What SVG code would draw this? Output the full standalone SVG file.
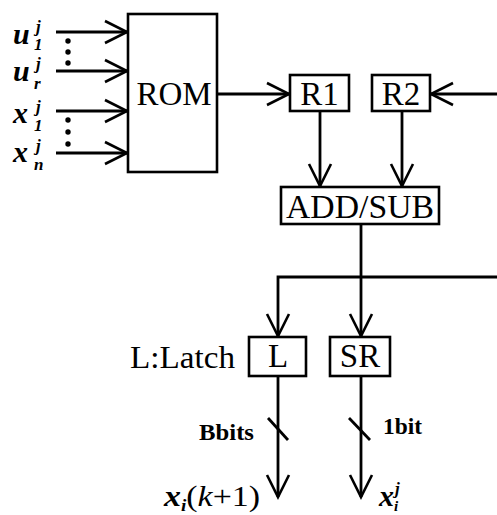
<svg xmlns="http://www.w3.org/2000/svg" width="497" height="515" viewBox="0 0 497 515">
<style>
.box{fill:#fff;stroke:#000;stroke-width:2.6}
.ln{fill:none;stroke:#000;stroke-width:2.8}
.t{font-family:"Liberation Serif","Times New Roman",serif;fill:#000}
.bt{font-size:33px;text-anchor:middle}
.m{font-style:italic;font-weight:bold}
.big{font-size:30px}
.sm{font-size:17px}
</style>
<defs>
<marker id="ah" markerUnits="userSpaceOnUse" markerWidth="30" markerHeight="30" viewBox="-25 -15 30 30" refX="0" refY="0" orient="auto">
<path d="M-22,-11 L0,0 L-22,11" fill="none" stroke="#000" stroke-width="2.6"/>
</marker>
</defs>
<rect width="497" height="515" fill="#fff"/>
<g id="connectors">
<line class="ln" x1="56" y1="32" x2="127" y2="32" marker-end="url(#ah)"/>
<line class="ln" x1="56" y1="71" x2="127" y2="71" marker-end="url(#ah)"/>
<line class="ln" x1="56" y1="111" x2="127" y2="111" marker-end="url(#ah)"/>
<line class="ln" x1="56" y1="153" x2="127" y2="153" marker-end="url(#ah)"/>
<line class="ln" x1="217" y1="94" x2="289" y2="94" marker-end="url(#ah)"/>
<line class="ln" x1="497" y1="94" x2="431" y2="94" marker-end="url(#ah)"/>
<line class="ln" x1="320" y1="111" x2="320" y2="186" marker-end="url(#ah)"/>
<line class="ln" x1="402" y1="111" x2="402" y2="186" marker-end="url(#ah)"/>
<line class="ln" x1="361" y1="224" x2="361" y2="336" marker-end="url(#ah)"/>
<polyline class="ln" points="497,277 278,277 278,336" marker-end="url(#ah)"/>
<line class="ln" x1="278" y1="376" x2="278" y2="497" marker-end="url(#ah)"/>
<line class="ln" x1="361" y1="376" x2="361" y2="497" marker-end="url(#ah)"/>
<line class="ln" x1="268" y1="418" x2="288" y2="440"/>
<line class="ln" x1="349" y1="418" x2="370" y2="440"/>
</g>
<g id="inputs">
<text class="t m big" x="13" y="44">u</text>
<text class="t m sm" x="36" y="32">j</text>
<text class="t m sm" x="34" y="50">1</text>
<text class="t m big" x="13" y="81">u</text>
<text class="t m sm" x="36" y="69">j</text>
<text class="t m sm" x="34" y="89">r</text>
<text class="t m big" x="13" y="123">x</text>
<text class="t m sm" x="36" y="112">j</text>
<text class="t m sm" x="34" y="131">1</text>
<text class="t m big" x="13" y="162">x</text>
<text class="t m sm" x="36" y="151">j</text>
<text class="t m sm" x="34" y="170">n</text>
<circle cx="68" cy="41" r="2.7"/>
<circle cx="68" cy="52" r="2.7"/>
<circle cx="68" cy="63" r="2.7"/>
<circle cx="68" cy="120" r="2.7"/>
<circle cx="68" cy="132" r="2.7"/>
<circle cx="68" cy="144" r="2.7"/>
</g>
<g id="rom">
<rect class="box" x="128" y="14" width="89" height="158"/>
<text class="t bt" x="174" y="105">ROM</text>
</g>
<g id="r1">
<rect class="box" x="290" y="75" width="59" height="36"/>
<text class="t bt" x="319.5" y="105">R1</text>
</g>
<g id="r2">
<rect class="box" x="372" y="75" width="58" height="36"/>
<text class="t bt" x="401" y="105">R2</text>
</g>
<g id="addsub">
<rect class="box" x="281" y="187" width="158" height="37"/>
<text class="t bt" x="360" y="218" textLength="148" lengthAdjust="spacingAndGlyphs">ADD/SUB</text>
</g>
<g id="latch">
<rect class="box" x="249" y="337" width="57" height="39"/>
<text class="t bt" x="278" y="367">L</text>
<text class="t" x="130" y="368" font-size="31" textLength="105" lengthAdjust="spacingAndGlyphs">L:Latch</text>
</g>
<g id="sr">
<rect class="box" x="330" y="337" width="60" height="39"/>
<text class="t bt" x="360" y="367">SR</text>
</g>
<g id="outputs">
<text class="t" x="199" y="440" font-size="23" font-weight="bold" textLength="55" lengthAdjust="spacingAndGlyphs">Bbits</text>
<text class="t" x="383" y="434" font-size="23" font-weight="bold" textLength="39" lengthAdjust="spacingAndGlyphs">1bit</text>
<text class="t" x="164" y="506" font-size="30" textLength="96" lengthAdjust="spacingAndGlyphs"><tspan class="m">x</tspan><tspan class="m" font-size="17" dy="5">i</tspan><tspan dy="-5">(</tspan><tspan font-style="italic">k</tspan>+1)</text>
<text class="t m" x="379" y="506" font-size="30">x</text>
<text class="t m" x="395" y="494" font-size="17">j</text>
<text class="t m" x="394" y="511" font-size="15">i</text>
</g>
</svg>
